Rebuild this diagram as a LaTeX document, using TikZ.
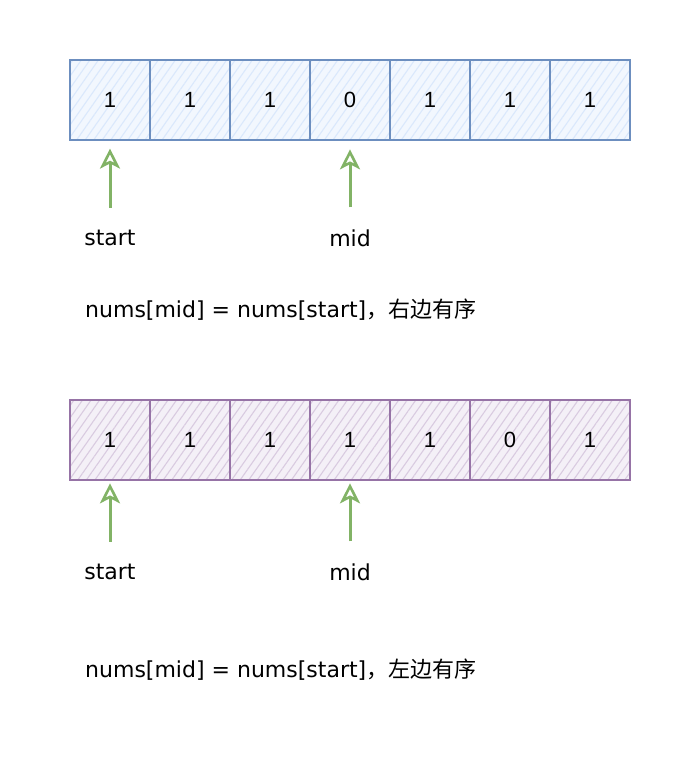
\documentclass[tikz,border=0pt]{standalone}
\usepackage{fontspec}
\setmainfont{Liberation Sans}
\newfontfamily\labelfont{DejaVu Sans}
\newfontfamily\cjk{Noto Sans CJK SC}
\usetikzlibrary{patterns.meta,arrows.meta}
\definecolor{bluedraw}{HTML}{6C8EBF}
\definecolor{bluefill}{HTML}{DAE8FC}
\definecolor{purpledraw}{HTML}{9673A6}
\definecolor{purplefill}{HTML}{E1D5E7}
\definecolor{greenarrow}{HTML}{82B366}

\tikzset{
  cell/.style={minimum width=80pt, minimum height=80pt, inner sep=0pt, line width=2.6pt, font=\fontsize{22}{22}\selectfont},
  bluecell/.style={cell, draw=bluedraw, preaction={fill=bluefill!35}, pattern={Lines[angle=55, distance=7pt, line width=1.1pt]}, pattern color=bluefill},
  purplecell/.style={cell, draw=purpledraw, preaction={fill=purplefill!35}, pattern={Lines[angle=55, distance=7pt, line width=1.1pt]}, pattern color=purplefill!90!purpledraw},
  pointer/.style={draw=greenarrow, line width=3pt, -{Stealth[open, length=20pt, width=20pt, inset=5pt, line width=2.6pt]}},
  label/.style={font=\labelfont\fontsize{22}{22}\selectfont, inner sep=1pt},
}

\begin{document}
\begin{tikzpicture}[x=1pt, y=-1pt]
\useasboundingbox (0,0) rectangle (692,762);

% first array
	\foreach \v [count=\i] in {1,1,1,0,1,1,1}
		\node[bluecell] (a\i) at ({30+80*\i}, 100) {\v};

	\node[label] (astart) at (110, 238) {start};
	\node[label] (amid) at (350, 238) {mid};
	\draw[pointer] (astart.north) ++(0,-21) -- ([yshift=-8pt]a1.south);
	\draw[pointer] (amid.north) ++(0,-21) -- ([yshift=-8pt]a4.south);

	\node[label, anchor=west] (atext) at (84, 310) {nums[mid] = nums[start]{\cjk\fontsize{22}{22}\selectfont ，右边有序}};

% second array
	\foreach \v [count=\i] in {1,1,1,1,1,0,1}
		\node[purplecell] (b\i) at ({30+80*\i}, 440) {\v};

	\node[label] (bstart) at (110, 572) {start};
	\node[label] (bmid) at (350, 572) {mid};
	\draw[pointer] (bstart.north) ++(0,-21) -- ([yshift=-2pt]b1.south);
	\draw[pointer] (bmid.north) ++(0,-21) -- ([yshift=-2pt]b4.south);

	\node[label, anchor=west] (btext) at (84, 670) {nums[mid] = nums[start]{\cjk\fontsize{22}{22}\selectfont ，左边有序}};

\end{tikzpicture}
\end{document}
